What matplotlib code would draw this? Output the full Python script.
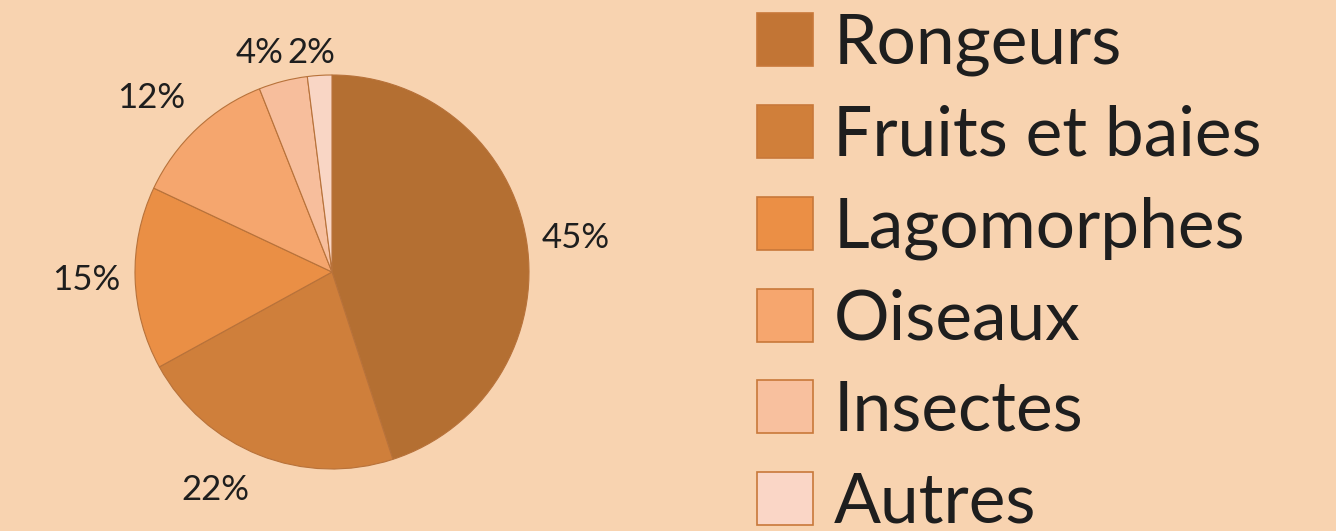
import numpy as np
import matplotlib
matplotlib.use("Agg")
import matplotlib.pyplot as plt
from matplotlib.patches import Patch

# data
categories = ["Rongeurs", "Fruits et baies", "Lagomorphes", "Oiseaux", "Insectes", "Autres"]
values = [45, 22, 15, 12, 4, 2]
pie_colors = ["#B46F32", "#CF7F3B", "#EA8F45", "#F5A66E", "#F7BE9C", "#F9D6C5"]
legend_colors = ["#C27535", "#D07F3A", "#EB8F45", "#F6A66E", "#F8C09E", "#FAD6C6"]
# label placement (radius units, angle shift in degrees)
label_dist = [1.25, 1.255, 1.25, 1.275, 1.17, 1.115]
label_shift = [-1.0, -6.5, 0.0, 3.0, 4.0, 1.8]

bg = "#F8D3B0"
plt.rcParams['font.family'] = ['Lato', 'DejaVu Sans']

fig = plt.figure(figsize=(13.36, 5.31), dpi=100, facecolor=bg)
W, H = 1336, 531
cx, cy, r = 332, 272, 197
ax = fig.add_axes([(cx - r) / W, (H - cy - r) / H, 2 * r / W, 2 * r / H])
ax.set_facecolor(bg)
ax.axis('off')

wedges, _ = ax.pie(values, colors=pie_colors, startangle=90, counterclock=False,
                   radius=1, wedgeprops=dict(edgecolor="#B8723A", linewidth=0.8))
ax.set_xlim(-1, 1)
ax.set_ylim(-1, 1)

for w, v, d, s in zip(wedges, values, label_dist, label_shift):
    ang = np.deg2rad((w.theta1 + w.theta2) / 2 + s)
    ax.text(d * np.cos(ang), d * np.sin(ang), "%d%%" % v, ha='center', va='center',
            fontsize=25, color="#1E1E1E", clip_on=False)

handles = [Patch(facecolor=c, edgecolor="#C8783A", linewidth=1.2) for c in legend_colors]
fig.legend(handles, categories, loc='upper left', bbox_to_anchor=(757 / W, 1 - 13 / H),
           frameon=False, fontsize=50, handlelength=0.8, handleheight=0.8,
           handletextpad=0.3, labelspacing=0.41, borderpad=0, borderaxespad=0,
           labelcolor="#1E1E1E")

fig.savefig("out.png", dpi=100, facecolor=bg)
